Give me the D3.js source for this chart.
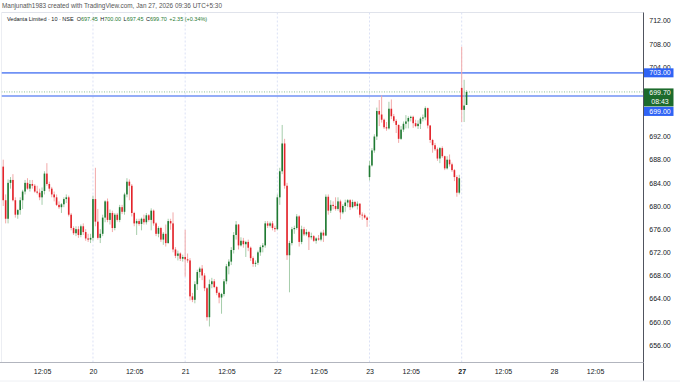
<!DOCTYPE html>
<html lang="en">
<head>
    <meta charset="UTF-8">
    <title>Vedanta Limited 10 NSE</title>
    <style>
        body { margin: 0; background: #ffffff; }
        svg { display: block; }
        text { font-family: "Liberation Sans", Arial, sans-serif; }
    </style>
</head>
<body>
    <svg id="SVG"></svg>

    <script src="https://cdnjs.cloudflare.com/ajax/libs/d3/7.8.5/d3.min.js"></script>
    <script>
        // 10 minute candles, index 0 = 09:15 on the 19th, 38 bars per session
        var firstIndex = 1;
        var opens = [
            686.8, 681.0, 677.8, 684.0, 684.5, 681.0, 678.5, 679.3, 681.0, 682.5, 684.0, 683.0, 683.8, 683.5, 682.5, 682.3, 681.5, 682.6, 685.6, 683.8, 683.0, 682.0, 681.5, 680.2, 679.8, 680.3, 681.2, 681.5, 678.5, 676.2, 675.3, 676.0, 675.0, 676.5, 675.5, 674.4, 674.2,
            674.5, 681.2, 677.3, 674.5, 675.2, 678.0, 680.8, 677.6, 678.8, 676.2, 678.5, 677.6, 679.8, 679.0, 682.0, 684.2, 683.5, 678.8, 677.0, 677.4, 676.9, 677.8, 677.2, 678.4, 677.6, 679.2, 677.0, 675.2, 676.2, 674.2, 675.2, 673.6, 677.4, 677.0, 672.5, 671.4, 671.8, 670.9,
            671.2, 670.8, 670.6, 664.4, 663.8, 666.5, 668.6, 669.2, 668.0, 665.8, 660.8, 666.5, 667.0, 666.0, 665.0, 664.2, 664.8, 667.0, 669.6, 670.4, 672.4, 675.0, 676.8, 673.2, 674.0, 673.4, 673.8, 672.8, 671.0, 670.0, 670.2, 672.0, 672.9, 673.2, 677.0, 676.6, 677.0, 676.2,
            676.0, 681.5, 686.0, 690.8, 683.5, 671.5, 673.6, 676.0, 676.2, 678.2, 673.8, 676.0, 675.1, 675.5, 674.6, 674.8, 674.0, 674.4, 674.2, 675.4, 674.9, 681.6, 679.2, 680.2, 680.0, 679.5, 680.8, 678.9, 680.0, 680.6, 681.0, 679.8, 680.7, 680.0, 680.4, 678.5, 678.4, 678.0,
            685.0, 687.0, 689.6, 692.0, 696.4, 695.8, 694.9, 693.6, 693.4, 696.8, 695.5, 694.7, 694.0, 691.6, 693.2, 694.2, 694.6, 695.2, 695.4, 694.3, 693.8, 694.2, 695.1, 695.3, 696.9, 693.9, 691.4, 690.5, 689.8, 688.2, 690.0, 688.6, 686.5, 688.0, 687.2, 686.2, 685.0, 682.3,
            700.4, 696.6, 697.45
        ];
        var highs = [
            688.0, 682.0, 684.6, 685.0, 685.5, 681.5, 679.5, 681.5, 682.8, 684.5, 684.8, 684.5, 684.5, 683.8, 683.5, 683.0, 683.2, 686.0, 687.4, 684.2, 683.3, 682.5, 682.0, 680.8, 680.5, 681.5, 682.0, 681.8, 678.8, 676.5, 676.5, 676.5, 676.8, 677.0, 676.0, 675.2, 675.2,
            681.8, 686.6, 679.5, 676.0, 678.5, 681.0, 681.3, 679.4, 679.2, 678.8, 678.8, 680.2, 680.2, 682.3, 684.8, 684.6, 683.8, 679.0, 677.8, 677.8, 678.0, 678.5, 678.8, 678.6, 679.6, 679.4, 677.2, 676.5, 676.4, 675.5, 676.8, 677.8, 677.8, 678.9, 672.9, 672.3, 672.0, 671.6,
            675.9, 671.8, 671.0, 665.0, 667.0, 669.0, 669.5, 669.8, 668.4, 666.0, 667.3, 667.6, 667.4, 666.2, 665.2, 665.0, 667.4, 670.0, 670.8, 672.9, 675.5, 677.4, 676.9, 674.6, 674.5, 674.0, 674.2, 673.0, 671.3, 670.6, 672.3, 673.2, 673.6, 677.4, 677.4, 677.3, 677.4, 676.6,
            682.0, 686.6, 694.0, 691.6, 684.0, 674.0, 676.4, 676.6, 678.6, 678.4, 676.6, 676.4, 676.0, 675.7, 675.4, 675.0, 674.6, 675.0, 675.6, 675.9, 682.0, 682.0, 681.0, 680.8, 681.5, 681.5, 681.1, 680.3, 681.1, 681.2, 681.2, 681.1, 680.9, 680.8, 680.5, 678.9, 678.7, 678.2,
            687.8, 690.0, 692.4, 697.0, 698.3, 699.1, 695.1, 694.5, 698.0, 698.4, 695.9, 695.0, 694.1, 693.8, 694.6, 695.7, 695.5, 695.6, 695.6, 694.9, 694.8, 695.4, 695.8, 697.2, 697.0, 694.0, 691.6, 690.9, 690.1, 690.2, 690.3, 688.7, 688.6, 688.9, 687.5, 686.4, 685.3, 685.4,
            707.5, 701.8, 700.0
        ];
        var lows = [
            680.0, 677.0, 677.0, 683.0, 680.8, 678.0, 677.8, 678.5, 679.5, 682.0, 682.8, 682.5, 683.0, 682.3, 682.0, 681.0, 680.2, 682.0, 683.5, 682.5, 681.5, 680.8, 680.0, 679.5, 678.8, 679.8, 680.5, 678.2, 675.8, 675.0, 674.8, 674.5, 674.6, 675.0, 674.0, 673.8, 673.6,
            674.0, 676.5, 674.2, 673.6, 674.8, 677.2, 677.2, 676.8, 675.5, 675.8, 677.3, 677.2, 678.6, 678.5, 681.5, 681.0, 678.2, 676.5, 675.0, 676.6, 675.8, 676.8, 676.8, 677.3, 675.8, 676.6, 674.8, 674.6, 673.8, 673.3, 673.0, 673.5, 675.9, 672.0, 671.0, 670.6, 670.5, 670.4,
            667.8, 670.2, 663.7, 663.4, 663.2, 665.5, 667.6, 667.2, 665.3, 660.2, 659.2, 665.8, 665.8, 664.6, 663.2, 661.4, 664.4, 666.5, 668.2, 669.8, 671.8, 674.2, 672.5, 673.0, 672.8, 671.2, 672.2, 670.5, 669.5, 669.5, 669.8, 671.4, 672.0, 672.8, 676.2, 676.3, 675.8, 675.5,
            675.8, 680.2, 685.5, 683.0, 670.7, 665.1, 673.2, 675.2, 675.9, 673.0, 673.4, 674.8, 674.8, 672.4, 674.2, 673.8, 673.5, 674.0, 673.9, 673.8, 674.8, 678.5, 678.8, 679.4, 679.2, 679.2, 677.7, 678.6, 679.0, 679.8, 679.3, 679.6, 679.8, 679.4, 678.0, 677.6, 677.8, 676.4,
            684.4, 686.8, 689.2, 691.4, 693.8, 694.4, 693.3, 693.0, 693.2, 695.0, 694.4, 692.6, 690.9, 691.4, 692.8, 693.4, 693.4, 694.6, 693.5, 693.6, 693.3, 693.3, 694.6, 694.8, 693.4, 690.9, 689.2, 689.5, 687.8, 687.4, 688.3, 686.2, 686.3, 686.8, 685.9, 684.3, 681.6, 682.0,
            694.5, 694.5, 697.45
        ];
        var closes = [
            681.0, 677.8, 684.0, 684.5, 681.0, 678.5, 679.3, 681.0, 682.5, 684.0, 683.0, 683.8, 683.5, 682.5, 682.3, 681.5, 682.6, 685.6, 683.8, 683.0, 682.0, 681.5, 680.2, 679.8, 680.3, 681.2, 681.5, 678.5, 676.2, 675.3, 676.0, 675.0, 676.5, 675.5, 674.4, 674.2, 674.5,
            681.2, 677.3, 674.5, 675.2, 678.0, 680.8, 677.6, 678.8, 676.2, 678.5, 677.6, 679.8, 679.0, 682.0, 684.2, 683.5, 678.8, 677.0, 677.4, 676.9, 677.8, 677.2, 678.4, 677.6, 679.2, 677.0, 675.2, 676.2, 674.2, 675.2, 673.6, 677.4, 677.0, 672.5, 671.4, 671.8, 670.9, 671.2,
            670.8, 670.6, 664.4, 663.8, 666.5, 668.6, 669.2, 668.0, 665.8, 660.8, 666.5, 667.0, 666.0, 665.0, 664.2, 664.8, 667.0, 669.6, 670.4, 672.4, 675.0, 676.8, 673.2, 674.0, 673.4, 673.8, 672.8, 671.0, 670.0, 670.2, 672.0, 672.9, 673.2, 677.0, 676.6, 677.0, 676.2, 676.0,
            681.5, 686.0, 690.8, 683.5, 671.5, 673.6, 676.0, 676.2, 678.2, 673.8, 676.0, 675.1, 675.5, 674.6, 674.8, 674.0, 674.4, 674.2, 675.4, 674.9, 681.6, 679.2, 680.2, 680.0, 679.5, 680.8, 678.9, 680.0, 680.6, 681.0, 679.8, 680.7, 680.0, 680.4, 678.5, 678.4, 678.0, 677.6,
            687.0, 689.6, 692.0, 696.4, 695.8, 694.9, 693.6, 693.4, 696.8, 695.5, 694.7, 694.0, 691.6, 693.2, 694.2, 694.6, 695.2, 695.4, 694.3, 693.8, 694.2, 695.1, 695.3, 696.9, 693.9, 691.4, 690.5, 689.8, 688.2, 690.0, 688.6, 686.5, 688.0, 687.2, 686.2, 685.0, 682.3, 684.8,
            696.6, 697.35, 699.70
        ];

        var sessionDays = ["19", "20", "21", "22", "23", "27", "28"];
        var barsPerDay = 38;
        var midLabel = "12:05";      // bar 17 of each session
        // 696 and 700 sit under the price tags in the original, so they are not listed
        var yTicks = [656, 660, 664, 668, 672, 676, 680, 684, 688, 692, 704, 708, 712];
        var levels = [703, 699];
        var lastPrice = 699.70;
        var countdown = "08:43";
        var symbolName = "Vedanta Limited · 10 · NSE";
        var ohlcLetters = ["O", "H", "L", "C"];
        var ohlcValues = ["697.45", "700.00", "697.45", "699.70"];
        var changeText = "+2.35 (+0.34%)";

        var width = 680;
        var height = 387;
        var paneTop = 12.5, paneLeft = 1.5, paneRight = 643.5, paneBottom = 362.5;

        var upColor = "#1f7a32", downColor = "#e3242b";
        var upWick = "#a6cdab", downWick = "#f2a9a9";

        var svg = d3.select("#SVG")
            .attr("width", width)
            .attr("height", height);

        // index -> pixel, 92.2 px per session
        var x = d3.scaleLinear().domain([0, 190]).range([0.8, 461.7]);
        var y = d3.scaleLinear().domain([656, 712]).range([345, 20.7]);

        svg.append("defs").append("clipPath").attr("id", "pane")
            .append("rect")
            .attr("x", paneLeft).attr("y", paneTop)
            .attr("width", paneRight - paneLeft).attr("height", paneBottom - paneTop);

        //***************** frame *****************
        svg.append("line")
            .attr("x1", paneLeft).attr("x2", paneRight)
            .attr("y1", paneTop).attr("y2", paneTop)
            .attr("stroke", "#e0e3eb");
        svg.append("line")
            .attr("x1", paneLeft).attr("x2", paneLeft)
            .attr("y1", paneTop).attr("y2", paneBottom)
            .attr("stroke", "#eceef3");

        var plot = svg.append("g").attr("clip-path", "url(#pane)");

        // session separators
        var dayStarts = d3.range(1, sessionDays.length - 1).map(k => k * barsPerDay);
        plot.selectAll(".sep")
            .data(dayStarts)
            .enter()
            .append("line")
            .attr("class", "sep")
            .attr("x1", d => x(d)).attr("x2", d => x(d))
            .attr("y1", paneTop).attr("y2", paneBottom)
            .attr("stroke", "#dbe1f5")
            .attr("stroke-dasharray", "2,2");

        // horizontal levels
        plot.selectAll(".level")
            .data(levels)
            .enter()
            .append("line")
            .attr("class", "level")
            .attr("x1", paneLeft).attr("x2", paneRight)
            .attr("y1", d => y(d)).attr("y2", d => y(d))
            .attr("stroke", "#7092f5")
            .attr("stroke-width", 1.7);

        // last price dotted line
        plot.append("line")
            .attr("x1", paneLeft).attr("x2", paneRight)
            .attr("y1", y(lastPrice)).attr("y2", y(lastPrice))
            .attr("stroke", "#8fbf97")
            .attr("stroke-dasharray", "1,1.5");

        //***************** candles *****************
        var candles = closes.map(function (c, k) {
            return { i: firstIndex + k, o: opens[k], h: highs[k], l: lows[k], c: c };
        });

        plot.selectAll(".wick")
            .data(candles)
            .enter()
            .append("line")
            .attr("class", "wick")
            .attr("x1", d => x(d.i)).attr("x2", d => x(d.i))
            .attr("y1", d => y(d.h)).attr("y2", d => y(d.l))
            .attr("stroke", d => d.c >= d.o ? upWick : downWick)
            .attr("stroke-width", 1);

        plot.selectAll(".body")
            .data(candles)
            .enter()
            .append("rect")
            .attr("class", "body")
            .attr("x", d => x(d.i) - 0.8)
            .attr("width", 1.6)
            .attr("y", d => y(Math.max(d.o, d.c)))
            .attr("height", d => Math.max(0.8, Math.abs(y(d.o) - y(d.c))))
            .attr("fill", d => d.c >= d.o ? upColor : downColor);

        //***************** price axis *****************
        var axisY = d3.axisRight(y)
            .tickValues(yTicks)
            .tickFormat(d3.format(".2f"))
            .tickSize(0)
            .tickPadding(0);

        var gy = svg.append("g")
            .attr("transform", `translate(${paneRight}, 0)`)
            .call(axisY);
        gy.select(".domain").remove();
        gy.selectAll("text")
            .attr("x", 16.5)
            .attr("text-anchor", "middle")
            .attr("font-size", 7)
            .attr("font-family", "Liberation Sans, Arial, sans-serif")
            .attr("fill", "#131722");

        svg.append("line")
            .attr("x1", paneRight).attr("x2", paneRight)
            .attr("y1", paneTop).attr("y2", 381)
            .attr("stroke", "#50535e");

        // price labels
        function priceTag(top, h, fill, lines) {
            svg.append("rect")
                .attr("x", paneRight + 0.5).attr("y", top)
                .attr("width", 29.5).attr("height", h)
                .attr("fill", fill);
            lines.forEach(function (t, k) {
                svg.append("text")
                    .attr("x", 660).attr("y", top + 4.5 + k * 9)
                    .attr("dy", "0.35em")
                    .attr("text-anchor", "middle")
                    .attr("font-size", 7)
                    .attr("fill", "#ffffff")
                    .text(t);
            });
        }
        var fmt = d3.format(".2f");
        priceTag(y(levels[0]) - 4.5, 9, "#2f63f5", [fmt(levels[0])]);
        var lastTop = y(lastPrice) - 3.5;
        priceTag(lastTop, 18, "#1c6b2c", [fmt(lastPrice), countdown]);
        priceTag(lastTop + 18.5, 9, "#2f63f5", [fmt(levels[1])]);

        //***************** time axis *****************
        var timeTicks = [];
        sessionDays.forEach(function (d, k) {
            if (k > 0) timeTicks.push({ i: k * barsPerDay, label: d, bold: d === "27" });
            timeTicks.push({ i: k * barsPerDay + 17, label: midLabel, bold: false });
        });

        var axisX = d3.axisBottom(x)
            .tickValues(timeTicks.map(t => t.i))
            .tickFormat((d, k) => timeTicks[k].label)
            .tickSize(0)
            .tickPadding(0);

        var gx = svg.append("g")
            .attr("transform", `translate(0, ${paneBottom})`)
            .call(axisX);
        gx.select(".domain").remove();
        gx.selectAll("text")
            .attr("y", 6.8)
            .attr("font-size", 7)
            .attr("font-family", "Liberation Sans, Arial, sans-serif")
            .attr("font-weight", (d, k) => timeTicks[k].bold ? "bold" : "normal")
            .attr("fill", "#131722");

        svg.append("line")
            .attr("x1", 0).attr("x2", paneRight)
            .attr("y1", paneBottom).attr("y2", paneBottom)
            .attr("stroke", "#b2b5be");
        svg.append("line")
            .attr("x1", 0).attr("x2", width)
            .attr("y1", 381).attr("y2", 381)
            .attr("stroke", "#eef0f4");

        //***************** header *****************
        svg.append("text")
            .attr("x", 2).attr("y", 8)
            .attr("font-size", 6.4)
            .attr("fill", "#555555")
            .text("Manjunath1983 created with TradingView.com, Jan 27, 2026 09:36 UTC+5:30");

        // legend line: one text, pieces laid out one after the other
        var legend = svg.append("text")
            .attr("x", 7).attr("y", 21)
            .attr("font-size", 5.5)
            .attr("fill", "#131722");
        legend.append("tspan").text(symbolName);
        ohlcLetters.forEach(function (letter, k) {
            legend.append("tspan").attr("dx", k === 0 ? 3 : 2.5).attr("fill", "#131722").text(letter);
            legend.append("tspan").attr("fill", upColor).text(ohlcValues[k]);
        });
        legend.append("tspan").attr("dx", 2.5).attr("fill", upColor).text(changeText);
    </script>
</body>
</html>
